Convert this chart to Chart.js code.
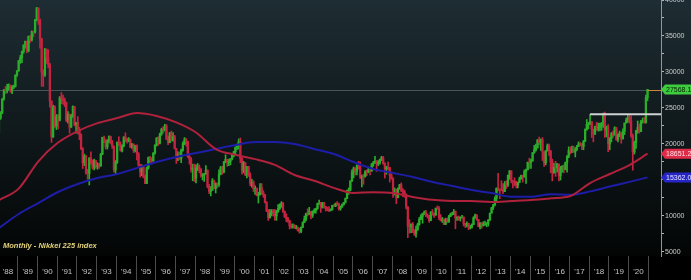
<!DOCTYPE html>
<html>
<head>
<meta charset="utf-8">
<script src="https://cdn.jsdelivr.net/npm/chart.js@4.4.1/dist/chart.umd.min.js"></script>
<style>
html, body { margin: 0; padding: 0; background: #000; }
#wrap { width: 691px; height: 280px; position: relative; }
</style>
</head>
<body>
<div id="wrap"><canvas id="chart"></canvas></div>
<script>
// Nikkei 225, monthly, Jan 1988 - Dec 2020 (one row per year)
const yearLabels = ["'88", "'89", "'90", "'91", "'92", "'93", "'94", "'95", "'96", "'97", "'98",
    "'99", "'00", "'01", "'02", "'03", "'04", "'05", "'06", "'07", "'08", "'09", "'10",
    "'11", "'12", "'13", "'14", "'15", "'16", "'17", "'18", "'19", "'20"];

const firstOpen = 21564;

const closes = [
    23622, 24302, 26260, 27446, 27417, 27769, 28019, 27366, 27924, 28007, 29579, 30159,
    31581, 31985, 32839, 33713, 34266, 32949, 34954, 34431, 35637, 35549, 37269, 38916,
    37189, 34592, 29980, 29584, 33131, 31940, 31036, 25978, 20984, 25194, 22455, 23849,
    23293, 26409, 26292, 26111, 25790, 23291, 24121, 22336, 23916, 25222, 22687, 22984,
    22023, 21339, 19346, 17391, 18348, 15952, 15910, 18061, 17399, 16767, 17684, 16925,
    17024, 16953, 18591, 20920, 20553, 19590, 20380, 21027, 20106, 19703, 16407, 17417,
    20229, 19997, 19112, 19725, 20974, 20644, 20449, 20629, 19564, 19990, 19076, 19723,
    18650, 17053, 16140, 16807, 15437, 14517, 16678, 18117, 17913, 17655, 18744, 19868,
    20813, 20125, 21407, 22041, 21956, 22531, 20693, 20167, 21556, 20467, 21020, 19361,
    18330, 18557, 18003, 19151, 20069, 20605, 20331, 18229, 17888, 16459, 16636, 15259,
    16628, 16832, 16527, 15641, 15671, 15830, 16379, 14108, 13406, 13564, 14883, 13842,
    14499, 14368, 15837, 16702, 16112, 17530, 17862, 17437, 17605, 17942, 18558, 18934,
    19540, 19960, 20337, 17974, 16332, 17411, 15727, 16861, 15747, 14539, 14649, 13786,
    13843, 12884, 12999, 13934, 13262, 12969, 11861, 10714, 9775, 10366, 10697, 10543,
    9998, 10588, 11025, 11493, 11764, 10622, 9878, 9620, 9383, 8640, 8506, 8579,
    8340, 8363, 7973, 7831, 8425, 9083, 9563, 10344, 10219, 10560, 10101, 10677,
    10784, 11042, 11715, 11762, 11236, 11859, 11326, 11082, 10824, 10771, 10899, 11489,
    11388, 11741, 11669, 11009, 11277, 11584, 11900, 12414, 13574, 13607, 14872, 16111,
    16650, 16206, 17060, 16906, 15467, 15505, 15457, 16141, 16128, 16399, 16274, 17226,
    17383, 17604, 17288, 17400, 17876, 18138, 17249, 16569, 16786, 16738, 15681, 15308,
    13593, 13603, 12526, 13850, 14339, 13482, 13377, 13073, 11260, 8577, 8512, 8860,
    7994, 7568, 8110, 8828, 9523, 9958, 10357, 10493, 10133, 10035, 9346, 10546,
    10198, 10126, 11090, 11057, 9769, 9383, 9537, 8824, 9369, 9202, 9937, 10229,
    10238, 10624, 9755, 9850, 9694, 9816, 9833, 8955, 8700, 8988, 8435, 8455,
    8803, 9723, 10084, 9521, 8543, 9007, 8695, 8840, 8870, 8928, 9446, 10395,
    11139, 11559, 12398, 13861, 13775, 13677, 13668, 13389, 14456, 14328, 15662, 16291,
    14915, 14841, 14828, 14304, 14632, 15162, 15621, 15425, 16174, 16414, 17460, 17451,
    17674, 18798, 19207, 19520, 20563, 20236, 20585, 18890, 17388, 19083, 19747, 19034,
    17518, 16027, 16759, 16666, 17235, 15576, 16569, 16887, 16450, 17425, 18308, 19114,
    19041, 19119, 18909, 19197, 19651, 20033, 19925, 19646, 20356, 22012, 22725, 22765,
    23098, 22068, 21454, 22468, 22202, 22305, 22554, 22865, 24120, 21920, 22351, 20015,
    20773, 21385, 21206, 22259, 20601, 21276, 21522, 20704, 21756, 22927, 23294, 23657,
    23205, 21143, 18917, 20194, 21878, 22288, 21710, 23140, 23185, 22977, 26434, 27568.15
];

const highs = [
    23720, 24500, 26300, 27600, 28000, 28300, 28350, 28200, 28100, 28200, 29600, 30200,
    31600, 32300, 32900, 33800, 34300, 34300, 35000, 35100, 35700, 35700, 37300, 38957,
    38713, 37400, 34700, 30300, 33300, 33200, 33100, 31200, 26000, 25400, 25300, 24100,
    24100, 26600, 27146, 26800, 26400, 25800, 24500, 24200, 24100, 25300, 25200, 23000,
    23800, 22300, 21400, 19500, 18600, 18400, 16500, 18100, 18900, 17800, 17900, 17700,
    17400, 17300, 18700, 20950, 21100, 20600, 20600, 21148, 21100, 20500, 19700, 17700,
    20300, 21000, 20300, 19900, 21000, 21552, 20800, 20900, 20700, 20100, 20000, 19800,
    19900, 18800, 17200, 17100, 16900, 15700, 16800, 18200, 18300, 18100, 18800, 19900,
    20900, 21000, 21500, 22200, 22400, 22750, 22700, 21100, 21600, 21800, 21600, 21200,
    19400, 18900, 18900, 19300, 20300, 20900, 20800, 20400, 18700, 18100, 17200, 17200,
    17100, 17300, 17100, 16600, 15900, 15900, 17000, 16400, 14400, 14100, 15200, 15000,
    14600, 14600, 16400, 16900, 16900, 17600, 18500, 17900, 17900, 18000, 18600, 19000,
    19600, 20000, 20700, 20833, 18100, 17600, 17400, 16900, 16900, 16000, 15100, 14900,
    14200, 13900, 13300, 14500, 14500, 13500, 13000, 12000, 10900, 10900, 10900, 10900,
    10900, 10800, 11600, 11700, 12000, 11900, 10700, 10300, 9800, 9400, 8900, 8900,
    8800, 8700, 8500, 8300, 8500, 9200, 10000, 10400, 11000, 11200, 10600, 10700,
    11000, 11100, 11800, 12195, 11900, 11900, 11900, 11300, 11200, 11300, 11000, 11500,
    11600, 11800, 12000, 11800, 11400, 11700, 11900, 12500, 13600, 13900, 14900, 16400,
    16800, 16700, 17100, 17600, 17500, 15700, 15800, 16300, 16400, 16800, 16600, 17300,
    17600, 18300, 17700, 17700, 17900, 18300, 18262, 17400, 16900, 17500, 16700, 16100,
    15200, 13900, 13700, 13900, 14400, 14600, 13800, 13600, 12800, 11300, 9500, 8900,
    9100, 8100, 8600, 9000, 9800, 10200, 10400, 10700, 10800, 10300, 10100, 10600,
    10900, 10400, 11100, 11400, 11300, 10200, 9800, 9600, 9700, 9700, 10100, 10400,
    10500, 10900, 10700, 9900, 10000, 9900, 10100, 9900, 9000, 9200, 9000, 8700,
    8900, 9900, 10250, 10200, 9500, 9100, 9100, 9200, 9300, 9100, 9500, 10400,
    11200, 11600, 12650, 13900, 15942, 13700, 14900, 14500, 14800, 14900, 15700, 16300,
    16200, 14900, 15300, 14800, 14700, 15400, 15700, 15600, 16400, 16500, 17500, 18030,
    17900, 18800, 19800, 20000, 20600, 20952, 20700, 20900, 18900, 19100, 20000, 20000,
    19100, 17900, 17300, 17600, 17300, 17000, 16900, 17000, 17100, 17500, 18400, 19600,
    19600, 19700, 19700, 19500, 19800, 20300, 20200, 20100, 20500, 22100, 23400, 23000,
    24129, 23100, 22000, 22500, 23000, 22900, 22900, 23000, 24300, 24448, 22500, 22700,
    20900, 21600, 21800, 22400, 22300, 21400, 21800, 21600, 22100, 22900, 23600, 24000,
    24100, 23900, 21400, 20400, 21900, 23200, 22800, 23300, 23600, 23700, 26800, 27600
];

const lows = [
    21200, 23400, 24200, 26100, 27000, 27100, 27500, 27200, 27000, 27700, 27900, 29400,
    30100, 31200, 31300, 32600, 33300, 32700, 32800, 34100, 34300, 34900, 35400, 37100,
    36600, 33300, 28000, 28000, 29400, 31200, 30600, 25100, 20221, 20900, 22300, 22000,
    22100, 23200, 25600, 25500, 25200, 23100, 22900, 21500, 22300, 23700, 22500, 21500,
    21400, 20600, 19200, 16600, 17000, 15800, 15100, 14309, 17200, 16500, 16400, 16600,
    16500, 16600, 16900, 18500, 20200, 19300, 19300, 20200, 20000, 19400, 16080, 15900,
    17300, 19800, 19000, 18900, 19600, 20300, 20100, 20300, 19500, 19400, 18800, 18900,
    17800, 16900, 15400, 15600, 15300, 14485, 14500, 16500, 17300, 17400, 17600, 18600,
    19700, 19800, 20000, 21200, 21500, 21800, 20600, 19900, 20200, 20400, 20400, 19300,
    17300, 17700, 17800, 17400, 19000, 19900, 19700, 18100, 17200, 16100, 14900, 14800,
    14600, 16300, 16000, 15400, 15000, 14800, 15800, 13900, 13100, 12787, 13600, 13800,
    13200, 13900, 14100, 15700, 15800, 16000, 17400, 16900, 17000, 17100, 17800, 18200,
    18400, 19200, 19300, 17400, 15800, 16000, 15600, 15300, 15500, 14200, 14000, 13400,
    13000, 12800, 11800, 12900, 13000, 12600, 11800, 10600, 9382, 9700, 10000, 10000,
    9400, 9400, 10500, 10900, 11200, 10500, 9800, 9200, 9100, 8200, 8300, 8300,
    8300, 8200, 7900, 7607, 7700, 8400, 9100, 9300, 10000, 10200, 9600, 9800,
    10400, 10400, 10900, 11600, 10500, 11100, 11100, 10700, 10700, 10600, 10700, 10800,
    11300, 11300, 11500, 10800, 10800, 11200, 11500, 11800, 12400, 13000, 13500, 14800,
    15300, 15700, 15700, 16500, 15200, 14045, 14400, 15400, 15600, 16000, 15700, 16200,
    16900, 17300, 16200, 17000, 17200, 17700, 17200, 15273, 15800, 16400, 14700, 15100,
    12573, 12900, 11700, 12600, 13700, 13400, 12700, 12600, 11000, 6995, 7600, 7700,
    7700, 7300, 7055, 8000, 8700, 9500, 9000, 10200, 9900, 9700, 9100, 9400,
    10100, 9800, 10100, 10900, 9500, 9300, 9100, 8800, 8800, 9100, 9100, 9900,
    10100, 10200, 8227, 9400, 9400, 9300, 9700, 8600, 8400, 8500, 8100, 8200,
    8300, 8800, 9700, 9400, 8500, 8200, 8300, 8600, 8700, 8500, 8600, 9400,
    10400, 10900, 11400, 12000, 13500, 12400, 13500, 13100, 13400, 13800, 14100, 15100,
    14600, 13900, 14200, 13900, 13900, 14700, 15100, 14700, 15400, 14529, 16400, 16600,
    16600, 17600, 18700, 19000, 19400, 19900, 19100, 17700, 16900, 17100, 19000, 18400,
    16000, 14865, 15900, 15500, 16100, 14864, 15000, 16100, 16000, 16400, 16100, 18100,
    18600, 18800, 18800, 18200, 19100, 19700, 19800, 19200, 19200, 20400, 21900, 22100,
    22700, 20900, 20300, 21300, 21900, 21800, 21800, 21900, 22300, 20900, 21000, 18948,
    19200, 20300, 20900, 21500, 20500, 20300, 21000, 20100, 20700, 21300, 22900, 23000,
    22900, 20900, 16358, 18600, 19400, 21500, 21500, 21800, 22900, 22900, 22900, 26000
];

// moving averages (month index from Jan 1988)
const maMonths = [0, 12, 24, 36, 48, 60, 72, 84, 96, 108, 120, 132, 144, 156, 168, 180, 192,
    204, 216, 228, 240, 252, 264, 276, 288, 300, 312, 324, 336, 348, 360, 372, 384, 395];
const ma100 = [12200, 13800, 17600, 20200, 21800, 22900, 23600, 24300, 23900, 23000, 21600,
    19300, 18500, 17900, 17100, 15700, 14900, 13900, 13200, 13300, 13200, 12650, 12250,
    12100, 12080, 11950, 12080, 12220, 12450, 12780, 14580, 15830, 17080, 18651.23];
const ma200 = [8330, 10280, 11800, 13330, 14440, 15280, 15830, 16670, 17500, 18190, 18750,
    19310, 19860, 20280, 20280, 20000, 19310, 18610, 17500, 16530, 15970, 15420, 14720,
    14170, 13610, 13190, 12680, 12680, 13010, 12950, 13420, 14100, 14740, 15362.07];

const yTicks = [5000, 7500, 10000, 12500, 15000, 17500, 20000, 22500, 25000, 27500,
    30000, 32500, 35000, 37500, 40000];

const resistanceLevel = 24129;
const resistanceFrom = 360;
const lastPrice = 27568.15;
const ma100Text = "18651.23";
const ma200Text = "15362.07";
const lastText = "27568.15";
const chartTitle = "Monthly - Nikkei 225 index";

const xMin = 0.63;
const xMax = 403.2;
const upColor = "#2aae2a";
const downColor = "#c4243f";
const smallFont = "'Liberation Sans', Arial, sans-serif";

const months = closes.map((c, i) => i);
const opens = closes.map((c, i) => i === 0 ? firstOpen : closes[i - 1]);
const candleColors = closes.map((c, i) => c >= opens[i] ? upColor : downColor);

// background + last price guide line
const backdrop = {
    id: "backdrop",
    beforeDraw(chart) {
        const ctx = chart.ctx;
        const area = chart.chartArea;
        ctx.save();
        ctx.fillStyle = "#000";
        ctx.fillRect(0, 0, chart.width, chart.height);
        const g = ctx.createLinearGradient(0, 0, 0, area.bottom);
        g.addColorStop(0, "#1e2d33");
        g.addColorStop(0.5, "#10191c");
        g.addColorStop(1, "#030505");
        ctx.fillStyle = g;
        ctx.fillRect(0, 0, chart.width, area.bottom);
        ctx.restore();
    },
    beforeDatasetsDraw(chart) {
        const ctx = chart.ctx;
        const area = chart.chartArea;
        const y = Math.round(chart.scales.y.getPixelForValue(lastPrice)) + 0.5;
        ctx.save();
        ctx.strokeStyle = "rgba(140,150,155,0.45)";
        ctx.lineWidth = 1;
        ctx.beginPath();
        ctx.moveTo(area.left, y);
        ctx.lineTo(area.right, y);
        ctx.stroke();
        ctx.restore();
    }
};

function drawFlag(ctx, x0, x1, y, fill, text, textColor) {
    ctx.fillStyle = fill;
    ctx.beginPath();
    ctx.moveTo(x0, y);
    ctx.lineTo(x0 + 4, y - 5);
    ctx.lineTo(x1, y - 5);
    ctx.lineTo(x1, y + 5);
    ctx.lineTo(x0 + 4, y + 5);
    ctx.closePath();
    ctx.fill();
    ctx.fillStyle = textColor;
    ctx.font = "7px " + smallFont;
    ctx.textBaseline = "middle";
    ctx.textAlign = "left";
    ctx.fillText(text, x0 + 5, y + 0.5);
}

const overlays = {
    id: "overlays",
    afterDraw(chart) {
        const ctx = chart.ctx;
        const area = chart.chartArea;
        const ys = chart.scales.y;
        const xs = chart.scales.x;
        ctx.save();

        // last price tail
        const yl = Math.round(ys.getPixelForValue(lastPrice)) + 0.5;
        ctx.strokeStyle = "#c8873c";
        ctx.lineWidth = 1;
        ctx.beginPath();
        ctx.moveTo(xs.getPixelForValue(months[months.length - 1]), yl);
        ctx.lineTo(area.right, yl);
        ctx.stroke();

        drawFlag(ctx, area.right, chart.width, ys.getPixelForValue(lastPrice), "#3dcc3d", lastText, "#062006");
        drawFlag(ctx, area.right, chart.width, ys.getPixelForValue(ma100[ma100.length - 1]), "#de2c48", ma100Text, "#ffdfe5");
        drawFlag(ctx, area.right, chart.width, ys.getPixelForValue(ma200[ma200.length - 1]), "#2626c8", ma200Text, "#e4e4ff");

        ctx.font = "italic bold 7.5px " + smallFont;
        ctx.fillStyle = "#e2d27a";
        ctx.textBaseline = "alphabetic";
        ctx.textAlign = "left";
        ctx.fillText(chartTitle, 3, 248);
        ctx.restore();
    }
};

new Chart(document.getElementById("chart"), {
    type: "bar",
    data: {
        datasets: [
            {
                type: "line",
                label: "MA100",
                data: maMonths.map((m, i) => ({ x: m, y: ma100[i] })),
                borderColor: "#b0223c",
                borderWidth: 2,
                pointRadius: 0,
                cubicInterpolationMode: "monotone",
                order: 0
            },
            {
                type: "line",
                label: "MA200",
                data: maMonths.map((m, i) => ({ x: m, y: ma200[i] })),
                borderColor: "#1d1da8",
                borderWidth: 2,
                pointRadius: 0,
                cubicInterpolationMode: "monotone",
                order: 0
            },
            {
                type: "line",
                label: "Resistance",
                data: [{ x: resistanceFrom, y: resistanceLevel }, { x: xMax, y: resistanceLevel }],
                borderColor: "#cfd2d4",
                borderWidth: 2,
                pointRadius: 0,
                order: 0
            },
            {
                label: "Body",
                data: months.map(i => ({ x: i, y: [opens[i], closes[i]] })),
                backgroundColor: candleColors,
                borderWidth: 0,
                barThickness: 1.6,
                grouped: false,
                order: 1
            },
            {
                label: "Range",
                data: months.map(i => ({ x: i, y: [lows[i], highs[i]] })),
                backgroundColor: candleColors,
                borderWidth: 0,
                barThickness: 1,
                grouped: false,
                order: 2
            }
        ]
    },
    options: {
        responsive: true,
        maintainAspectRatio: false,
        animation: false,
        events: [],
        layout: { padding: 0 },
        plugins: {
            legend: { display: false },
            tooltip: { enabled: false }
        },
        scales: {
            x: {
                type: "linear",
                min: xMin,
                max: xMax,
                offset: false,
                position: "bottom",
                afterBuildTicks: function (scale) {
                    scale.ticks = yearLabels.map((l, i) => ({ value: i * 12 + 5.5 }));
                },
                afterFit: function (scale) {
                    scale.height = 24;
                    scale.paddingLeft = 0;
                    scale.paddingRight = 0;
                },
                grid: {
                    offset: true,
                    drawOnChartArea: false,
                    drawTicks: true,
                    tickLength: 24,
                    color: "#4c4c4c"
                },
                border: { display: false },
                ticks: {
                    autoSkip: false,
                    maxRotation: 0,
                    padding: -13,
                    color: "#c4c4c4",
                    font: { family: smallFont, size: 8 },
                    callback: function (value, index) {
                        return yearLabels[index];
                    }
                }
            },
            y: {
                position: "right",
                min: 4444,
                max: 40000,
                afterBuildTicks: function (scale) {
                    scale.ticks = yTicks.map(v => ({ value: v }));
                },
                afterFit: function (scale) {
                    scale.width = 30;
                    scale.paddingTop = 0;
                    scale.paddingBottom = 0;
                },
                grid: {
                    drawOnChartArea: false,
                    drawTicks: true,
                    tickLength: 3,
                    color: "#b4b4b4"
                },
                border: { display: true, color: "#8e989c", width: 1 },
                ticks: {
                    padding: 1,
                    color: "#cccccc",
                    font: { family: smallFont, size: 7 },
                    callback: function (value) {
                        return value % 5000 === 0 ? String(value) : "";
                    }
                }
            }
        }
    },
    plugins: [backdrop, overlays]
});
</script>
</body>
</html>
